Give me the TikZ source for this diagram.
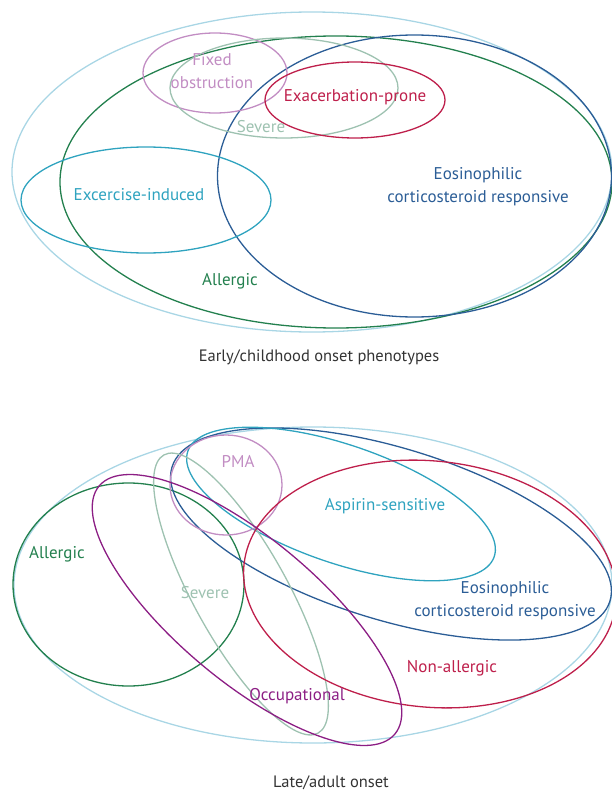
\documentclass[tikz,border=0pt]{standalone}
\usepackage{fontspec}
\setmainfont{PT Sans}
\usepackage{tikz}

\definecolor{skyline}{HTML}{A9D6E5}
\definecolor{allergicgreen}{HTML}{23804E}
\definecolor{eosblue}{HTML}{2B5D96}
\definecolor{exercisecyan}{HTML}{2FA3BF}
\definecolor{fixedorchid}{HTML}{C28DC3}
\definecolor{severegray}{HTML}{9EC2B1}
\definecolor{exacred}{HTML}{BE1F4B}
\definecolor{occpurple}{HTML}{8C1E84}
\definecolor{captiongray}{HTML}{333333}

\begin{document}
\begin{tikzpicture}[x=1pt, y=-1pt, every node/.style={font=\fontsize{17}{23}\selectfont, inner sep=0pt},
	ring/.style={line width=1.3pt},
	lab/.style={align=center},
	caption/.style={font=\fontsize{16.5}{18}\selectfont, text=captiongray}]
	\useasboundingbox (0,0) rectangle (612,792);
	% early / childhood onset
	\begin{scope}
		\foreach \cx/\cy/\rx/\ry/\rot/\col in {312/172/300/160/0/skyline, 336/182/276/146/0/allergicgreen, 414.5/176/197/141/0/eosblue,
			146/200/125/53/0/exercisecyan, 215/73/72/40/0/fixedorchid, 284/88/114/50/0/severegray, 355/100/90/38/0/exacred}
			{\draw[ring, \col, rotate around={\rot:(\cx,\cy)}] (\cx,\cy) ellipse [x radius=\rx, y radius=\ry];}
		\node[lab, text=fixedorchid] (fixed) at (212,71) {Fixed\\obstruction};
		\node[lab, text=exacred] (exacerb) at (355,97) {Exacerbation-prone};
		\node[lab, text=severegray] (severe1) at (261,127) {Severe};
		\node[lab, text=exercisecyan] (exercise) at (139,195) {Excercise-induced};
		\node[lab, text=eosblue] (eos1) at (478,187) {Eosinophilic\\corticosteroid responsive};
		\node[lab, text=allergicgreen] (allergic1) at (230,281) {Allergic};
		\node[caption] (early) at (319,357) {Early/childhood onset phenotypes};
	\end{scope}
	% late / adult onset
	\begin{scope}
		\foreach \cx/\cy/\rx/\ry/\rot/\col in {313/585/299/158/0/skyline, 128.5/584.5/115.5/101.5/0/allergicgreen, 391/534/229/86/-17/eosblue,
			341/504/162/59/-19/exercisecyan, 226/485/56/50/0/fixedorchid, 241/594/159/47/-61/severegray,
			430/584/187/123/-6/exacred, 247/610/193/71/-40/occpurple}
			{\draw[ring, \col, rotate around={\rot:(\cx,\cy)}] (\cx,\cy) ellipse [x radius=\rx, y radius=\ry];}
		\node[lab, text=fixedorchid] (pma) at (238,461) {PMA};
		\node[lab, text=exercisecyan] (aspirin) at (385,506) {Aspirin-sensitive};
		\node[lab, text=allergicgreen] (allergic2) at (57,554) {Allergic};
		\node[lab, text=severegray] (severe2) at (205,593) {Severe};
		\node[lab, text=eosblue] (eos2) at (505,601) {Eosinophilic\\corticosteroid responsive};
		\node[lab, text=exacred] (nonallergic) at (452,668) {Non-allergic};
		\node[lab, text=occpurple] (occup) at (297,696) {Occupational};
		\node[caption] (late) at (331,783) {Late/adult onset};
	\end{scope}
\end{tikzpicture}
\end{document}
